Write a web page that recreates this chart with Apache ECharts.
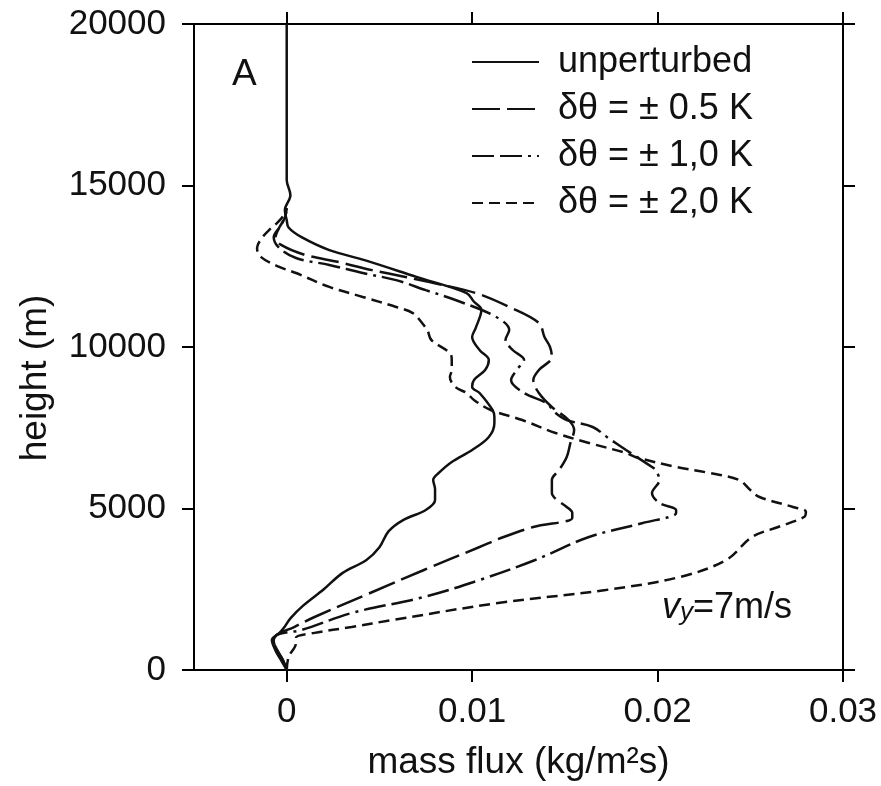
<!DOCTYPE html>
<html>
<head>
<meta charset="utf-8">
<script src="https://cdn.jsdelivr.net/npm/echarts@6.0.0/dist/echarts.min.js"></script>
<style>
html,body{margin:0;padding:0;background:#fff;}
#chart{width:881px;height:786px;}
</style>
</head>
<body>
<div id="chart"></div>
<script>
// [mass flux (kg/m^2 s), height (m)]
const unperturbed = [[0,0],[-0.0003,300],[-0.0006,600],[-0.0008,930],[-0.0004,1145],[-0.0001,1350],[0.0002,1600],[0.0009,2000],[0.0020,2500],[0.0030,3000],[0.0043,3406],[0.0050,3800],[0.0055,4300],[0.0063,4650],[0.0075,4954],[0.0080,5263],[0.0080,5600],[0.0079,5882],[0.0082,6100],[0.0089,6440],[0.0100,6811],[0.0109,7214],[0.0112,7647],[0.0112,7833],[0.0111,8050],[0.0104,8576],[0.0100,8760],[0.0101,8978],[0.0107,9288],[0.0109,9598],[0.0104,9907],[0.0100,10310],[0.0102,10600],[0.0105,11150],[0.0101,11400],[0.0097,11670],[0.0070,12170],[0.0042,12690],[0.0023,13000],[0.0008,13400],[0.0001,13700],[0,13930],[-0.0001,14240],[0.0002,14700],[0,15170],[0,16000],[0,20000]];
const dT05 = [[0,0],[-0.0002,300],[-0.0005,600],[-0.0007,900],[-0.0005,1100],[0.0004,1331],[0.0015,1641],[0.0045,2384],[0.0074,3096],[0.0104,3808],[0.0117,4118],[0.0133,4427],[0.0154,4706],[0.0154,4860],[0.0151,5046],[0.0145,5300],[0.0143,5480],[0.0143,5882],[0.0147,6200],[0.0151,6594],[0.0153,7028],[0.0155,7430],[0.0152,7740],[0.0143,8142],[0.0136,8576],[0.0133,8978],[0.0136,9288],[0.0143,9690],[0.0142,10000],[0.0139,10310],[0.0136,10743],[0.0120,11240],[0.0102,11670],[0.0077,12010],[0.0064,12170],[0.0046,12380],[0.0028,12630],[0.0010,12850],[-0.0003,13160],[-0.0006,13400],[-0.0004,13700],[-0.0001,14000],[0,14300]];
const dT10 = [[0,0],[-0.0002,300],[-0.0005,600],[-0.0007,900],[-0.0005,1100],[0.0008,1238],[0.0035,1765],[0.0074,2260],[0.0104,2786],[0.0134,3406],[0.0163,4118],[0.0192,4551],[0.0210,4861],[0.0210,4954],[0.0201,5170],[0.0197,5480],[0.0201,5882],[0.0199,6192],[0.0197,6285],[0.0183,6811],[0.0173,7200],[0.0165,7523],[0.0151,7740],[0.0145,7957],[0.0140,8266],[0.0128,8576],[0.0121,8978],[0.0124,9288],[0.0128,9598],[0.0122,9900],[0.0118,10217],[0.0120,10526],[0.0113,10929],[0.0091,11455],[0.0075,11760],[0.0059,12070],[0.0041,12290],[0.0023,12540],[0.0005,12755],[-0.0004,13065],[-0.0007,13400],[-0.0004,13700],[-0.0001,14000],[0,14300]];
const dT20 = [[0,0],[0.0001,400],[0.0005,840],[0.0005,1000],[0.0015,1150],[0.0035,1331],[0.0057,1548],[0.0114,2074],[0.0172,2477],[0.0212,2879],[0.0237,3406],[0.0251,4118],[0.0265,4427],[0.0279,4737],[0.0280,4900],[0.0273,5046],[0.0255,5356],[0.0250,5573],[0.0244,5882],[0.0228,6099],[0.0210,6285],[0.0188,6594],[0.0183,6718],[0.0163,7028],[0.0145,7337],[0.0127,7740],[0.0110,8050],[0.0101,8359],[0.0097,8576],[0.0091,8760],[0.0088,9071],[0.0089,9288],[0.0089,9598],[0.0088,9814],[0.0078,10217],[0.0076,10500],[0.0073,10743],[0.0068,11050],[0.0059,11240],[0.0041,11550],[0.0023,11860],[0.0005,12290],[-0.0004,12480],[-0.0014,12790],[-0.0016,13065],[-0.0013,13400],[-0.0009,13650],[-0.0005,13850],[-0.0002,14050],[0,14300]];

const seriesNames = ['unperturbed','δθ = ± 0.5 K','δθ = ± 1,0 K','δθ = ± 2,0 K'];
const xTicks = [0, 0.01, 0.02, 0.03];
const xTickLabels = ['0','0.01','0.02','0.03'];

const FONT = "'Liberation Sans', Arial, Helvetica, sans-serif";
const INK = '#111';

const chart = echarts.init(document.getElementById('chart'), null, {renderer:'canvas'});

function axisCommon(){
  return {
    axisLine:{show:true,onZero:false,lineStyle:{color:'#000',width:2}},
    splitLine:{show:false}
  };
}

const dashes = ['solid',[28,7],[22,6,22,6,3,6],[11,6]];
const data = [unperturbed, dT05, dT10, dT20];

const option = {
  animation:false,
  backgroundColor:'#fff',
  textStyle:{fontFamily:FONT},
  grid:{left:194,right:38,top:24,bottom:116},
  legend:{
    orient:'vertical', left:466, top:37,
    itemWidth:67, itemHeight:14, itemGap:7,
    data:seriesNames,
    itemStyle:{opacity:0},
    textStyle:{fontFamily:FONT,fontSize:36,color:INK,lineHeight:40,padding:[0,0,0,14]},
    selectedMode:false
  },
  xAxis:[
    Object.assign(axisCommon(),{
      type:'value',min:-0.005,max:0.03,position:'bottom',
      axisTick:{show:true,inside:false,length:12,customValues:xTicks,lineStyle:{color:'#000',width:2}},
      axisLabel:{show:true,customValues:xTicks,margin:25,fontSize:35,color:INK,fontFamily:FONT,
        formatter:function(v){const i=xTicks.findIndex(t=>Math.abs(t-v)<1e-9);return i>=0?xTickLabels[i]:'';}},
      name:'mass flux (kg/m²s)',nameLocation:'middle',nameGap:74,
      nameTextStyle:{fontSize:37,color:INK,fontFamily:FONT}
    }),
    Object.assign(axisCommon(),{
      type:'value',min:-0.005,max:0.03,position:'top',
      axisTick:{show:true,inside:false,length:12,customValues:xTicks,lineStyle:{color:'#000',width:2}},
      axisLabel:{show:false,customValues:xTicks}
    })
  ],
  yAxis:[
    Object.assign(axisCommon(),{
      type:'value',min:0,max:20000,interval:5000,position:'left',
      axisTick:{show:true,inside:false,length:12,lineStyle:{color:'#000',width:2}},
      axisLabel:{show:true,margin:28,fontSize:35,color:INK,fontFamily:FONT,formatter:function(v){return String(v);}},
      name:'height (m)',nameLocation:'middle',nameGap:140,
      nameTextStyle:{fontSize:37,color:INK,fontFamily:FONT,padding:[0,62,0,0]}
    }),
    Object.assign(axisCommon(),{
      type:'value',min:0,max:20000,interval:5000,position:'right',
      axisTick:{show:true,inside:false,length:12,lineStyle:{color:'#000',width:2}},
      axisLabel:{show:false}
    })
  ],
  series: seriesNames.map(function(n,i){
    return {
      name:n,type:'line',xAxisIndex:0,yAxisIndex:0,
      data:data[i],symbol:'none',smooth:0.35,
      lineStyle:{color:'#111',width:2.5,type:dashes[i]},
      itemStyle:{color:'#111'},
      z: 4-i
    };
  }),
  graphic:[
    {type:'text',left:232,top:56,style:{text:'A',font:'37px '+FONT,fill:INK}},
    {type:'text',left:662,top:590,style:{
      text:'{v|v}{s|y}{n|=7m/s}',
      rich:{
        v:{fontStyle:'italic',fontSize:36,fontFamily:FONT,fill:INK,verticalAlign:'bottom'},
        s:{fontStyle:'italic',fontSize:26,fontFamily:FONT,fill:INK,verticalAlign:'bottom',padding:[18,0,0,0]},
        n:{fontSize:36,fontFamily:FONT,fill:INK,verticalAlign:'bottom'}
      }
    }}
  ]
};
chart.setOption(option);
</script>
</body>
</html>
